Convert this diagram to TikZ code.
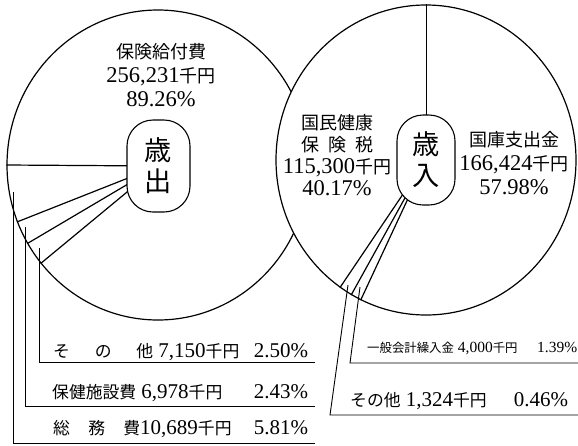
\documentclass[tikz,border=0pt]{standalone}
\usepackage{fontspec}
\setmainfont{Liberation Serif}
\newfontfamily\jp[Scale=0.8]{Noto Sans CJK JP}
\usetikzlibrary{shapes.geometric}
\pgfdeclarelayer{front}
\pgfsetlayers{main,front}
\tikzset{every picture/.style={line width=0.75pt}}
\tikzset{
  pie/.style={draw, ellipse, line width=1.2pt, inner sep=0pt},
  core/.style={draw, fill=white, rounded corners=26pt, line width=1.1pt, inner sep=0pt, align=center, font=\fontsize{34}{31}\selectfont\jp},
  cut/.style={line width=1.2pt},
  lead/.style={line width=0.9pt},
  toplbl/.style={inner sep=0pt, align=center, font=\fontsize{22.5}{24}\selectfont},
  botlbl/.style={inner sep=0pt, anchor=base west, font=\fontsize{21}{23}\selectfont},
}

\begin{document}
\begin{tikzpicture}[x=1pt,y=1pt,yscale=-1,xscale=1]
\useasboundingbox (0,0) rectangle (578,445);

%Shape: Ellipse [歳出]
\node [pie, minimum width=302pt, minimum height=310pt] (outL) at (158,165) {};
%Shape: Ellipse [歳入], lies over the left one
\node [pie, fill=white, minimum width=300pt, minimum height=310pt] (outR) at (426,160) {};

\begin{pgfonlayer}{front}
%Rounded Rect [歳出]
\node [core, minimum width=63pt, minimum height=92pt] (inL) at (158.5,166) {歳\\出};
%Rounded Rect [歳入]
\node [core, minimum width=58pt, minimum height=90pt] (inR) at (426,160) {歳\\入};
\end{pgfonlayer}

%Straight Lines (slices)
\draw [cut] (outL.180) -- (inL.center);
\draw [cut] (outL.202.5) -- (inL.center);
\draw [cut] (outL.211.4) -- (inL.center);
\draw [cut] (outL.220.4) -- (inL.center);
\draw [lead] (outR.90) -- (inR.center);
\draw [cut] (outR.236.4) -- (inR.center);
\draw [cut] (outR.241.4) -- (inR.center);
\draw [cut] (outR.245.1) -- (inR.center);

% Text Node
\node [toplbl] (lbKyufu) at (161,75) {{\jp 保険給付費}\\256,231{\jp 千円}\\89.26\%};
% Text Node
\node [toplbl, font=\fontsize{22.5}{22}\selectfont] (lbZei) at (337,155) {{\jp 国民健康}\\{\jp 保\hspace{0.5em}険\hspace{0.5em}税}\\115,300{\jp 千円}\\40.17\%};
% Text Node
\node [toplbl] (lbKokko) at (514,163) {{\jp 国庫支出金}\\166,424{\jp 千円}\\57.98\%};

% Text Node
\node [botlbl] (lbSonotaL) at (53,357) {\makebox[255pt][s]{\makebox[100pt][s]{\jp そ\hfill の\hfill 他} 7,150{\jp 千円}\hfill 2.50\%}};
% Text Node
\node [botlbl] (lbHoken) at (52,398) {\makebox[256pt][s]{{\jp 保健施設費} 6,978{\jp 千円}\hfill 2.43\%}};
% Text Node
\node [botlbl] (lbSoumu) at (53,434) {\makebox[255pt][s]{\makebox[87pt][s]{\jp 総\hfill 務\hfill 費}10,689{\jp 千円}\hfill 5.81\%}};
% Text Node
\node [botlbl, font=\fontsize{15.5}{17}\selectfont] (lbKuri) at (367,352) {\makebox[210pt][s]{{\jp 一般会計繰入金} 4,000{\jp 千円}\hfill 1.39\%}};
% Text Node
\node [botlbl] (lbSonotaR) at (350,406) {\makebox[218pt][s]{{\jp その他} 1,324{\jp 千円}\hfill 0.46\%}};

%Straight Lines (leaders)
\coordinate (ldSoumu) at (13.5,192);
\coordinate (ulSoumu) at (315,443);
\draw [lead] (ldSoumu) |- (ulSoumu);
\coordinate (ldHoken) at (25.5,227);
\coordinate (ulHoken) at (315,406);
\draw [lead] (ldHoken) |- (ulHoken);
\coordinate (ldSonotaL) at (39.5,248);
\coordinate (ulSonotaL) at (315,362);
\draw [lead] (ldSonotaL) |- (ulSonotaL);
\coordinate (ldKuri) at (360,287);
\coordinate (ckKuri) at (350,363);
\coordinate (ulKuri) at (578,363);
\draw [lead] (ldKuri) -- (ckKuri) -- (ulKuri);
\coordinate (ldSonotaR) at (348,285);
\coordinate (ckSonotaR) at (330,415);
\coordinate (ulSonotaR) at (578,415);
\draw [lead] (ldSonotaR) -- (ckSonotaR) -- (ulSonotaR);

\end{tikzpicture}
\end{document}
